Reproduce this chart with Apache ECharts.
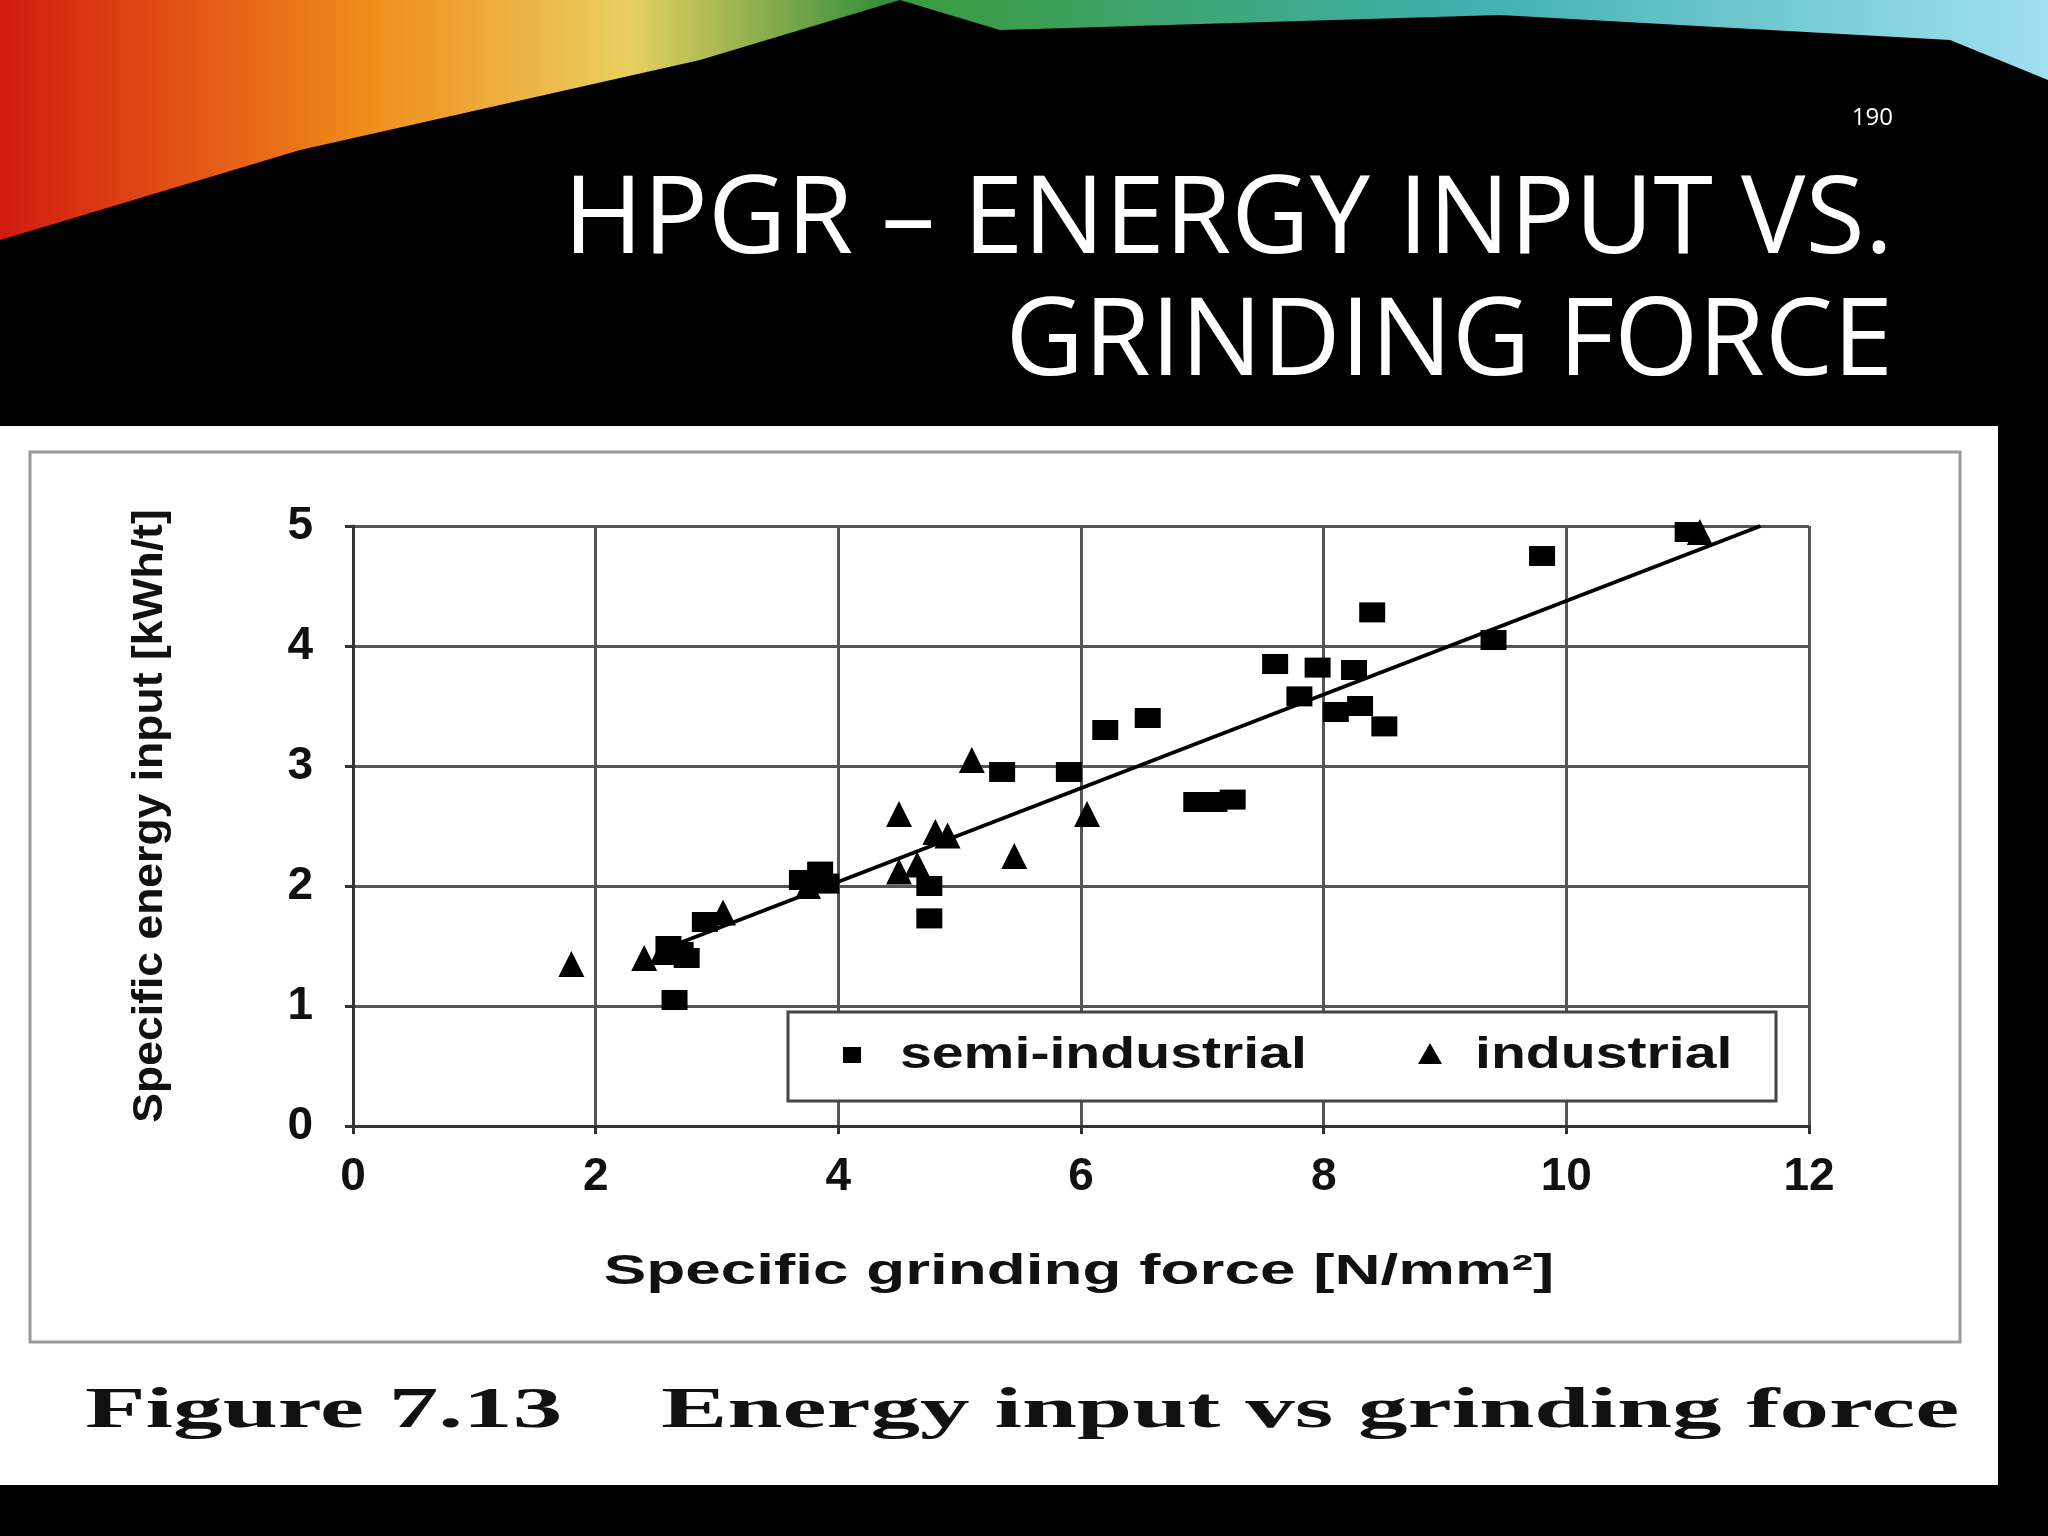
<!DOCTYPE html>
<html><head><meta charset="utf-8">
<script src="https://cdn.jsdelivr.net/npm/echarts@6/dist/echarts.min.js"></script>
<style>html,body{margin:0;padding:0;background:#000}#c{width:2048px;height:1536px}</style>
</head><body><div id="c"></div>
<script>
var semiIndustrial = [[2.65,1.05],[2.6,1.5],[2.7,1.45],[2.75,1.4],[2.9,1.7],[3.7,2.05],[3.85,2.12],[3.9,2.02],
  [4.75,2.0],[4.75,1.73],[5.35,2.95],[5.9,2.95],[6.2,3.3],[6.55,3.4],[6.95,2.7],[7.1,2.7],[7.25,2.72],
  [7.6,3.85],[7.8,3.58],[7.95,3.82],[8.1,3.45],[8.25,3.8],[8.3,3.5],[8.5,3.33],[8.4,4.28],[9.4,4.05],[9.8,4.75],[11.0,4.95]];
var industrial = [[1.8,1.35],[2.4,1.4],[2.55,1.45],[3.05,1.78],[3.75,2.0],[4.5,2.6],[4.5,2.12],[4.65,2.18],
  [4.8,2.45],[4.9,2.42],[5.1,3.05],[5.45,2.25],[6.05,2.6],[11.1,4.95]];
var fitLine = [[2.5,1.45],[11.6,5.0]];
var xTicks = [0,2,4,6,8,10,12];
var yTicks = [0,1,2,3,4,5];

var chart = echarts.init(document.getElementById('c'));
var bold = {fontFamily:'Liberation Sans', fontWeight:'bold', color:'#111'};
chart.setOption({
  backgroundColor:'#000',
  animation:false,
  graphic:[
    {type:'polygon', shape:{points:[[0,0],[900,0],[700,60],[300,150],[0,240]]},
      style:{fill:new echarts.graphic.LinearGradient(0,0,1,0,[{offset:0,color:'#d21a10'},{offset:0.4,color:'#f08a1a'},{offset:0.7,color:'#e8d060'},{offset:1,color:'#2a8a3a'}])}},
    {type:'polygon', shape:{points:[[900,0],[2048,0],[2048,80],[1950,40],[1500,15],[1000,30]]},
      style:{fill:new echarts.graphic.LinearGradient(0,0,1,0,[{offset:0,color:'#3a9a3a'},{offset:0.5,color:'#40b0b0'},{offset:1,color:'#a0e0f0'}])}},
    {type:'rect', shape:{x:0,y:426,width:1998,height:1059}, style:{fill:'#fff'}, z:-1},
    {type:'rect', shape:{x:30,y:452,width:1930,height:890}, style:{fill:'none',stroke:'#999',lineWidth:3}},
    {type:'text', style:{text:'190',x:1893,y:118,fill:'#fff',font:'24px "Open Sans"',textAlign:'right',textVerticalAlign:'middle'}},
    {type:'text', style:{text:'HPGR – ENERGY INPUT VS.',x:1893,y:222,fill:'#fff',font:'108px "Open Sans"',textAlign:'right',textVerticalAlign:'middle'}},
    {type:'text', style:{text:'GRINDING FORCE',x:1893,y:344,fill:'#fff',font:'108px "Open Sans"',textAlign:'right',textVerticalAlign:'middle'}},
    {type:'text', x:85, y:1413, scaleX:1.77, style:{text:'Figure 7.13    Energy input vs grinding force',x:0,y:0,fill:'#111',font:'bold 56px "Liberation Serif"',textVerticalAlign:'middle'}},
    {type:'text', x:1079, y:1272, scaleX:1.52, style:{text:'Specific grinding force [N/mm²]',x:0,y:0,fill:'#111',font:'bold 42px "Liberation Sans"',textAlign:'center',textVerticalAlign:'middle'}},
    {type:'text', x:150, y:816, rotation:Math.PI/2, scaleX:1.06, style:{text:'Specific energy input [kWh/t]',x:0,y:0,fill:'#111',font:'bold 42px "Liberation Sans"',textAlign:'center',textVerticalAlign:'middle'}},
    {type:'rect', shape:{x:788,y:1012,width:988,height:89}, style:{fill:'#fff',stroke:'#444',lineWidth:3}, z:10},
    {type:'rect', shape:{x:843,y:1047,width:18,height:16}, style:{fill:'#000'}, z:11},
    {type:'text', x:900, y:1056, scaleX:1.3, style:{text:'semi-industrial',x:0,y:0,fill:'#111',font:'bold 44px "Liberation Sans"',textVerticalAlign:'middle'}, z:11},
    {type:'polygon', shape:{points:[[1430,1043],[1418,1064],[1442,1064]]}, style:{fill:'#000'}, z:11},
    {type:'text', x:1475, y:1056, scaleX:1.3, style:{text:'industrial',x:0,y:0,fill:'#111',font:'bold 44px "Liberation Sans"',textVerticalAlign:'middle'}, z:11}
  ],
  grid:{left:353,right:239,top:526,bottom:410},
  xAxis:{type:'value',min:0,max:12,interval:2,
    axisLine:{onZero:false,lineStyle:{color:'#333',width:3}},axisTick:{show:true,length:8,lineStyle:{color:'#333',width:3}},
    axisLabel:Object.assign({fontSize:46,margin:28,formatter:function(v){return xTicks.indexOf(v)>=0?v:'';}},bold),
    splitLine:{lineStyle:{color:'#555',width:3}}},
  yAxis:{type:'value',min:0,max:5,interval:1,
    axisLine:{show:true,lineStyle:{color:'#333',width:3}},axisTick:{show:true,length:8,lineStyle:{color:'#333',width:3}},
    axisLabel:Object.assign({fontSize:46,margin:40,formatter:function(v){return yTicks.indexOf(v)>=0?v:'';}},bold),
    splitLine:{lineStyle:{color:'#555',width:3}}},
  series:[
    {type:'line',data:fitLine,symbol:'none',lineStyle:{color:'#000',width:4},z:3},
    {type:'scatter',data:semiIndustrial,symbol:'rect',symbolSize:[26,20],itemStyle:{color:'#000',opacity:1},z:4},
    {type:'scatter',data:industrial,symbol:'triangle',symbolSize:26,itemStyle:{color:'#000',opacity:1},z:4}
  ]
});
</script></body></html>
